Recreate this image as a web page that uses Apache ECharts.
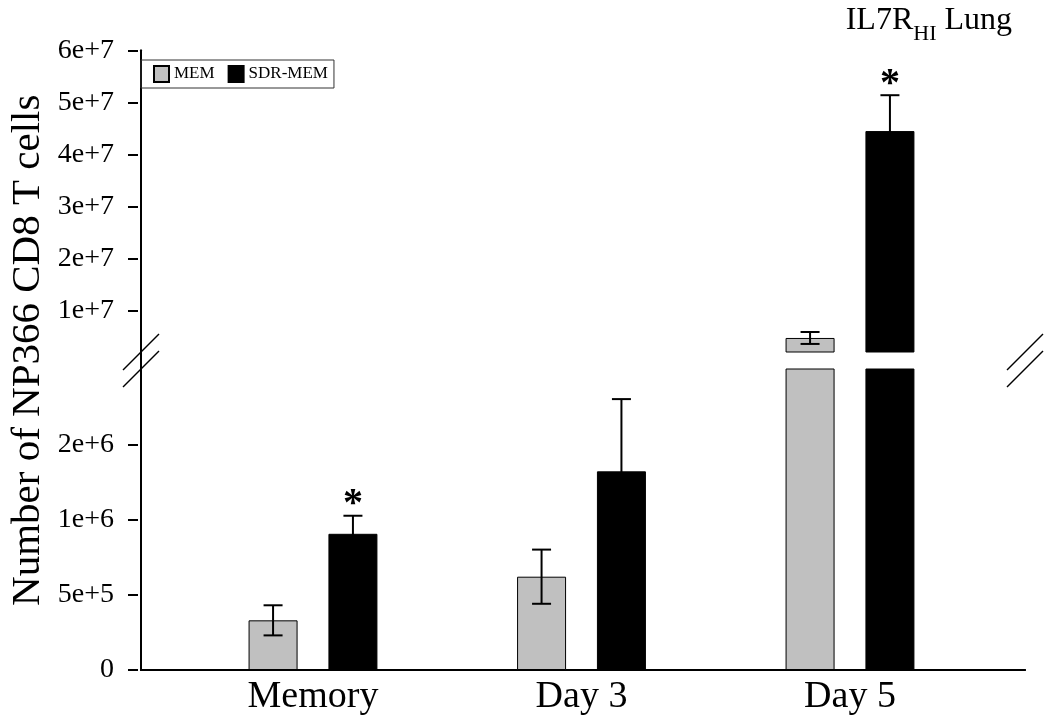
<!DOCTYPE html>
<html>
<head>
<meta charset="utf-8">
<script src="https://cdn.jsdelivr.net/npm/echarts@6/dist/echarts.min.js"></script>
<style>
html,body{margin:0;padding:0;background:#fff;}
#chart{width:1050px;height:723px;}
</style>
</head>
<body>
<div id="chart"></div>
<script>
// ---- data ----
const categories = ['Memory', 'Day 3', 'Day 5'];
const memValues = [3.3e5, 6.2e5, 4.7e6];
const memErrors = [1.0e5, 1.8e5, 1.15e6];
const sdrValues = [9.05e5, 1.32e6, 4.45e7];
const sdrErrors = [1.2e5, 4.8e5, 6.9e6];
const memSignificant = [false, false, false];
const sdrSignificant = [true, false, true];
const lowerRange = [0, 2e6];
const upperRange = [2e6, 6e7];
const lowerTickValues = [0, 5e5, 1e6, 1.5e6];
const lowerTickLabels = ['0', '5e+5', '1e+6', '2e+6'];
const upperTickValues = [1e7, 2e7, 3e7, 4e7, 5e7, 6e7];
const upperTickLabels = ['1e+7', '2e+7', '3e+7', '4e+7', '5e+7', '6e+7'];

// ---- style ----
const FONT = 'Liberation Serif';
const MEM_COLOR = '#c0c0c0';
const SDR_COLOR = '#000000';
const BAR_FRAC = 0.1825;
const GAP_FRAC = 0.63;

const chart = echarts.init(document.getElementById('chart'));

function upperData(vals) { return vals.map(v => v > lowerRange[1] ? v : '-'); }
function errData(vals, errs, sig, upper) {
  const out = [];
  vals.forEach((v, i) => {
    const inUpper = v > lowerRange[1];
    if (inUpper === upper) out.push([i, v, errs[i], sig[i] ? 1 : 0]);
  });
  return out;
}
function makeErrRender(side) {
  return function (params, api) {
    const i = api.value(0), v = api.value(1), e = api.value(2), s = api.value(3);
    const band = api.size([1, 0])[0];
    const off = side * band * BAR_FRAC * (1 + GAP_FRAC) / 2;
    const pTop = api.coord([i, v + e]);
    const pBot = api.coord([i, v - e]);
    const x = pTop[0] + off;
    const hw = 9.5;
    const st = { stroke: '#000', lineWidth: 2 };
    const children = [
      { type: 'line', shape: { x1: x, y1: pTop[1], x2: x, y2: pBot[1] }, style: st },
      { type: 'line', shape: { x1: x - hw, y1: pTop[1], x2: x + hw, y2: pTop[1] }, style: st },
      { type: 'line', shape: { x1: x - hw, y1: pBot[1], x2: x + hw, y2: pBot[1] }, style: st }
    ];
    if (s) {
      children.push({ type: 'text', x: x, y: pTop[1] + 9, style: {
        text: '*', fill: '#000', font: 'bold 40px "' + FONT + '"', textAlign: 'center', textVerticalAlign: 'bottom' } });
    }
    return { type: 'group', children: children };
  };
}

const barCommon = { type: 'bar', barWidth: (BAR_FRAC * 100) + '%', barGap: (GAP_FRAC * 100) + '%', clip: true };
const memStyle = { color: MEM_COLOR, borderColor: '#000', borderWidth: 1 };
const sdrStyle = { color: SDR_COLOR, borderColor: '#000', borderWidth: 1 };

const tickLabelStyle = { color: '#000', fontFamily: FONT, fontSize: 28, margin: 24 };

const option = {
  animation: false,
  backgroundColor: '#fff',
  title: {
    text: '{a|IL7R}{b|HI}{a| Lung}',
    right: 33, top: -4,
    textStyle: { fontWeight: 'normal', rich: {
      a: { fontFamily: FONT, fontSize: 32, fontWeight: 'normal', color: '#000', verticalAlign: 'bottom', lineHeight: 36 },
      b: { fontFamily: FONT, fontSize: 22, fontWeight: 'normal', color: '#000', verticalAlign: 'bottom', lineHeight: 36, padding: [0, 0, -8, 0] }
    } }
  },
  legend: {
    data: ['MEM', 'SDR-MEM'],
    left: 141, top: 60,
    orient: 'horizontal',
    itemWidth: 15, itemHeight: 16, itemGap: 13,
    padding: [5, 6, 5, 12],
    borderColor: '#333', borderWidth: 1,
    icon: 'rect',
    textStyle: { fontFamily: FONT, fontSize: 17, color: '#000' }
  },
  grid: [
    { left: 138, right: 25, top: 50.5, bottom: 53 },
    { left: 178.75, right: 65.75, top: 50.5, bottom: 371 },
    { left: 178.75, right: 65.75, top: 369, bottom: 53 }
  ],
  xAxis: [
    { gridIndex: 0, type: 'value', min: 0, max: 1, position: 'bottom',
      axisLine: { show: true, lineStyle: { color: '#000', width: 2 } },
      axisTick: { show: false }, axisLabel: { show: false }, splitLine: { show: false } },
    { gridIndex: 0, type: 'value', min: 0, max: 1, position: 'top',
      axisLine: { show: true, lineStyle: { color: '#000', width: 2 } },
      axisTick: { show: false }, axisLabel: { show: false }, splitLine: { show: false } },
    { gridIndex: 1, type: 'category', data: categories, show: false },
    { gridIndex: 2, type: 'category', data: categories,
      axisLine: { show: false }, axisTick: { show: false },
      axisLabel: { color: '#000', fontFamily: FONT, fontSize: 38, margin: 8 } }
  ],
  yAxis: [
    { gridIndex: 0, type: 'value', min: 0, max: 1, position: 'left',
      name: 'Number of NP366 CD8 T cells', nameLocation: 'middle', nameGap: 92,
      nameTextStyle: { fontFamily: FONT, fontSize: 41, color: '#000', padding: [0, 0, 0, 20] },
      axisLine: { show: true, lineStyle: { color: '#000', width: 2 } },
      axisTick: { show: false }, axisLabel: { show: false }, splitLine: { show: false } },
    { gridIndex: 0, type: 'value', min: 0, max: 1, position: 'right',
      axisLine: { show: true, lineStyle: { color: '#000', width: 2 } },
      axisTick: { show: false }, axisLabel: { show: false }, splitLine: { show: false } },
    { gridIndex: 1, type: 'value', min: upperRange[0], max: upperRange[1], position: 'left', offset: 40.75,
      axisLine: { show: false },
      axisTick: { show: true, length: 10, customValues: upperTickValues, lineStyle: { color: '#000', width: 2 } },
      axisLabel: Object.assign({ customValues: upperTickValues,
        formatter: v => upperTickLabels[upperTickValues.indexOf(v)] }, tickLabelStyle),
      splitLine: { show: false } },
    { gridIndex: 2, type: 'value', min: lowerRange[0], max: lowerRange[1], position: 'left', offset: 40.75,
      axisLine: { show: false },
      axisTick: { show: true, length: 10, customValues: lowerTickValues, lineStyle: { color: '#000', width: 2 } },
      axisLabel: Object.assign({ customValues: lowerTickValues,
        formatter: v => lowerTickLabels[lowerTickValues.indexOf(v)] }, tickLabelStyle),
      splitLine: { show: false } }
  ],
  series: [
    Object.assign({ name: 'MEM', xAxisIndex: 2, yAxisIndex: 2, data: upperData(memValues), itemStyle: memStyle }, barCommon),
    Object.assign({ name: 'SDR-MEM', xAxisIndex: 2, yAxisIndex: 2, data: upperData(sdrValues), itemStyle: sdrStyle }, barCommon),
    Object.assign({ name: 'MEM', xAxisIndex: 3, yAxisIndex: 3, data: memValues, itemStyle: memStyle }, barCommon),
    Object.assign({ name: 'SDR-MEM', xAxisIndex: 3, yAxisIndex: 3, data: sdrValues, itemStyle: sdrStyle }, barCommon),
    { type: 'custom', xAxisIndex: 2, yAxisIndex: 2, renderItem: makeErrRender(-1), data: errData(memValues, memErrors, memSignificant, true), z: 5 },
    { type: 'custom', xAxisIndex: 2, yAxisIndex: 2, renderItem: makeErrRender(1), data: errData(sdrValues, sdrErrors, sdrSignificant, true), z: 5 },
    { type: 'custom', xAxisIndex: 3, yAxisIndex: 3, renderItem: makeErrRender(-1), data: errData(memValues, memErrors, memSignificant, false), z: 5 },
    { type: 'custom', xAxisIndex: 3, yAxisIndex: 3, renderItem: makeErrRender(1), data: errData(sdrValues, sdrErrors, sdrSignificant, false), z: 5 }
  ]
};
chart.setOption(option);

// break marks at the axis break, placed from the axes' own scales
const yA = chart.convertToPixel({ yAxisIndex: 2 }, upperRange[0]);
const yB = chart.convertToPixel({ yAxisIndex: 3 }, lowerRange[1]);
const xL = chart.convertToPixel({ xAxisIndex: 0 }, 0);
const xR = chart.convertToPixel({ xAxisIndex: 0 }, 1);
const d = 18;
const marks = [];
[xL, xR].forEach(x => [yA, yB].forEach(y => {
  marks.push({ type: 'line', z: 100, shape: { x1: x - d, y1: y + d, x2: x + d, y2: y - d }, style: { stroke: '#000', lineWidth: 1.5 } });
}));
chart.setOption({ graphic: marks });
</script>
</body>
</html>
